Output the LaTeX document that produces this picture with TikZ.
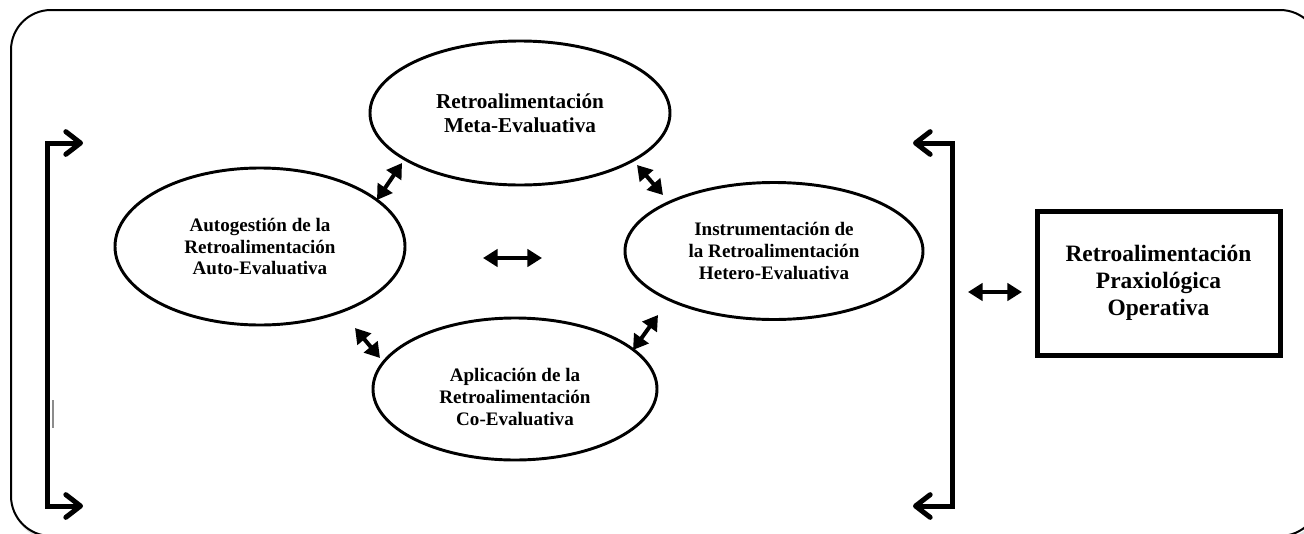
\documentclass[tikz,border=0pt]{standalone}
\usepackage{fontspec}
\setmainfont{Liberation Serif}
\usetikzlibrary{arrows.meta,shapes.geometric}
\begin{document}
\begin{tikzpicture}[x=0.75pt,y=-0.75pt,
  ell/.style={draw, ellipse, line width=2.2pt, inner sep=0pt},
  txtS/.style={align=center, font=\bfseries\fontsize{14.3}{16.2}\selectfont},
  txtL/.style={align=center, font=\bfseries\fontsize{15.9}{18}\selectfont},
  txtB/.style={align=center, font=\bfseries\fontsize{17.6}{20}\selectfont},
  dbl/.style={line width=3pt, {Triangle[length=11pt,width=13pt]}-{Triangle[length=11pt,width=13pt]}},
  brk/.style={line width=3.75pt, line join=miter, {Straight Barb[length=11pt,width=17pt,round]}-{Straight Barb[length=11pt,width=17pt,round]}},
  frame/.style={line width=1.5pt, rounded corners=30pt}
]
\useasboundingbox (0,0) rectangle (1304,533);
\begin{scope}
\clip (0,0) rectangle (1304,533);
\draw[frame, black!12, line width=2.5pt] (14,13) rectangle (1323,539);
\draw[frame, fill=white] (11,10) rectangle (1320,536);
\end{scope}

% ellipses
\node[ell, txtL, minimum width=225pt, minimum height=108pt] (meta) at (520,113) {Retroalimentación\\Meta-Evaluativa};
\node[ell, txtS, minimum width=217.5pt, minimum height=117.75pt] (auto) at (260,246.5) {Autogestión de la\\Retroalimentación\\Auto-Evaluativa};
\node[ell, txtS, minimum width=223.5pt, minimum height=102.75pt] (hetero) at (774,251) {Instrumentación de\\la Retroalimentación\\Hetero-Evaluativa};
\node[ell, minimum width=213pt, minimum height=106.5pt] (co) at (515,389) {};
\node[txtS, inner sep=0pt] (coT) at (515,397) {Aplicación de la\\Retroalimentación\\Co-Evaluativa};

% box
\node[draw, line width=3.75pt, minimum width=182.25pt, minimum height=108pt, txtB] (praxis) at (1158.5,283) {Retroalimentación\\Praxiológica\\Operativa};

% double arrows
\coordinate (a1s) at (377,200); \coordinate (a1e) at (402,163);
\coordinate (a2s) at (637,165); \coordinate (a2e) at (663,195);
\coordinate (a3s) at (483,258); \coordinate (a3e) at (542,258);
\coordinate (a4s) at (355,328); \coordinate (a4e) at (380,358);
\coordinate (a5s) at (633,350); \coordinate (a5e) at (658,315);
\coordinate (a6s) at (968,292); \coordinate (a6e) at (1022,292);
\draw[dbl] (a1s) -- (a1e);
\draw[dbl] (a2s) -- (a2e);
\draw[dbl] (a3s) -- (a3e);
\draw[dbl] (a4s) -- (a4e);
\draw[dbl] (a5s) -- (a5e);
\draw[dbl] (a6s) -- (a6e);

% brackets
\coordinate (lt) at (83,143); \coordinate (lb) at (83,506);
\coordinate (rt) at (913,143); \coordinate (rb) at (913,506);
\draw[brk] (lt) -- (47,143) -- (47,506) -- (lb);
\draw[brk] (rt) -- (952,143) -- (952,506) -- (rb);

% stray mark
\draw[black!45, line width=0.8pt] (53,400) -- (53,428);
\end{tikzpicture}
\end{document}
